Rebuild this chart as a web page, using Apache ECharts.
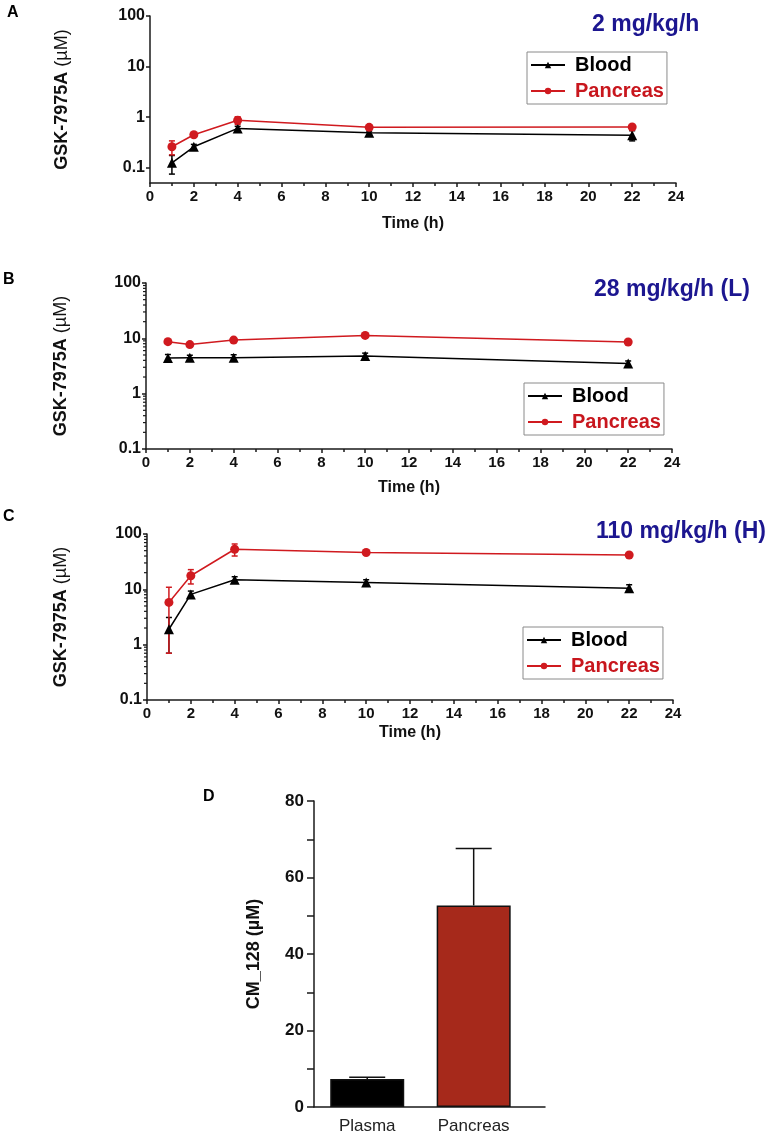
<!DOCTYPE html>
<html>
<head>
<meta charset="utf-8">
<script src="https://cdn.jsdelivr.net/npm/echarts@6/dist/echarts.min.js"></script>
<style>html,body{margin:0;padding:0;background:#fff}#c{width:770px;height:1135px}</style>
</head>
<body>
<div id="c"></div>
<script>
// ---------- data ----------
const time = [1, 2, 4, 10, 22];
const bloodA = [0.125, 0.26, 0.6, 0.49, 0.44];
const bloodASem = [0.05, 0.03, 0.06, 0.04, 0.1];
const pancA = [0.26, 0.45, 0.87, 0.63, 0.64];
const pancASem = [0.08, 0.04, 0.15, 0.04, 0.04];
const bloodB = [4.4, 4.45, 4.45, 4.8, 3.5];
const bloodBSem = [0.7, 0.5, 0.6, 0.6, 0.4];
const pancB = [8.7, 7.7, 9.3, 11.3, 8.6];
const pancBSem = [0.6, 0.5, 0.8, 0.8, 0.5];
const bloodC = [1.9, 8.1, 14.9, 13.3, 10.5];
const bloodCSem = [1.2, 1.2, 2.0, 1.6, 1.6];
const pancC = [5.8, 17.6, 53, 46.4, 41.7];
const pancCSem = [5.1, 5.1, 13, 3, 2.5];
const logMinorTicks = [0.2,0.3,0.4,0.5,0.6,0.7,0.8,0.9,2,3,4,5,6,7,8,9,20,30,40,50,60,70,80,90];
const panelTitles = ['2 mg/kg/h', '28 mg/kg/h (L)', '110 mg/kg/h (H)'];
const dCategories = ['Plasma', 'Pancreas'];
const dValues = [7.3, 52.7];
const dSem = [0.5, 14.9];

// ---------- styles ----------
const FONT = 'Liberation Sans, Arial, sans-serif';
const RED = '#d01a1f';
const NAVY = '#1c1690';
const AX = '#1a1a1a';

const grids = [
  {left: 150, top: 16, width: 526, height: 167},
  {left: 146, top: 283, width: 526, height: 166},
  {left: 147, top: 534, width: 526, height: 166},
  {left: 314, top: 801, width: 231, height: 307}
];

function xAxisTime(gi, nameGap) {
  return {
    type: 'value', gridIndex: gi, min: 0, max: 24, interval: 2,
    name: 'Time (h)', nameLocation: 'middle', nameGap: nameGap,
    nameTextStyle: {fontFamily: FONT, fontWeight: 'bold', fontSize: 16, color: '#111'},
    axisLine: {lineStyle: {color: AX, width: 1.5}},
    axisTick: {length: 4, lineStyle: {color: AX, width: 1.5}},
    minorTick: {show: true, splitNumber: 2, length: 3, lineStyle: {color: AX, width: 1.5}},
    splitLine: {show: false},
    axisLabel: {fontFamily: FONT, fontWeight: 'bold', fontSize: 15, color: '#111', margin: 6}
  };
}
function yAxisLog(gi, min, nameGap) {
  return {
    type: 'log', logBase: 10, gridIndex: gi, min: min, max: 100,
    name: '{b|GSK-7975A} {n|(\u00b5M)}', nameLocation: 'middle', nameGap: nameGap,
    nameTextStyle: {
      fontFamily: FONT, fontSize: 18, color: '#111',
      rich: {b: {fontFamily: FONT, fontWeight: 'bold', fontSize: 18, color: '#111'},
             n: {fontFamily: FONT, fontWeight: 'normal', fontSize: 18, color: '#111'}}
    },
    axisLine: {lineStyle: {color: AX, width: 1.5}},
    axisTick: {length: 4, lineStyle: {color: AX, width: 1.5}},
    splitLine: {show: false},
    axisLabel: {fontFamily: FONT, fontWeight: 'bold', fontSize: 16, color: '#111', margin: 5,
      showMinLabel: min >= 0.1, formatter: v => String(+v.toPrecision(3))}
  };
}

function errRender(capHalf) {
  return function (params, api) {
    const x = api.value(0), lo = api.value(1), hi = api.value(2);
    const a = api.coord([x, lo]), b = api.coord([x, hi]);
    const st = {stroke: api.visual('color'), lineWidth: 1.5};
    return {type: 'group', children: [
      {type: 'line', shape: {x1: a[0], y1: a[1], x2: b[0], y2: b[1]}, style: st},
      {type: 'line', shape: {x1: a[0] - capHalf, y1: a[1], x2: a[0] + capHalf, y2: a[1]}, style: st},
      {type: 'line', shape: {x1: b[0] - capHalf, y1: b[1], x2: b[0] + capHalf, y2: b[1]}, style: st}
    ]};
  };
}
function errSeries(gi, vals, sem, color) {
  return {
    type: 'custom', xAxisIndex: gi, yAxisIndex: gi, z: 3,
    itemStyle: {color: color},
    renderItem: errRender(3),
    encode: {x: 0, y: [1, 2]},
    data: time.map((t, i) => [t, vals[i] - sem[i], vals[i] + sem[i]]),
    silent: true
  };
}
function lineSeries(gi, name, vals, color, symbol) {
  return {
    type: 'line', name: name, xAxisIndex: gi, yAxisIndex: gi, z: 4,
    data: time.map((t, i) => [t, vals[i]]),
    symbol: symbol, symbolSize: symbol === 'triangle' ? 10 : 9,
    showAllSymbol: true,
    itemStyle: {color: color},
    lineStyle: {color: color, width: 1.5},
    emphasis: {disabled: true}, animation: false
  };
}
function minorTickSeries(gi) {
  return {
    type: 'custom', xAxisIndex: gi, yAxisIndex: gi, z: 5, silent: true,
    itemStyle: {color: AX},
    renderItem: function (params, api) {
      const p = api.coord([0, api.value(1)]);
      return {type: 'line', shape: {x1: p[0] - 3, y1: p[1], x2: p[0], y2: p[1]},
        style: {stroke: AX, lineWidth: 1.2}};
    },
    encode: {x: 0, y: 1},
    data: logMinorTicks.map(v => [0, v])
  };
}
function legendAt(left, top) {
  return {
    show: true, orient: 'vertical', left: left, top: top,
    borderColor: '#8a8a8a', borderWidth: 1, padding: [3, 3, 3, 3],
    itemGap: 6, itemWidth: 34, itemHeight: 8,
    selectedMode: false,
    textStyle: {fontFamily: FONT, fontWeight: 'bold', fontSize: 20, padding: [0, 0, 0, 5]},
    data: [
      {name: 'Blood', textStyle: {color: '#000'}},
      {name: 'Pancreas', textStyle: {color: '#c8161d'}}
    ]
  };
}
function gtext(text, x, y, size, color, align) {
  return {type: 'text', x: x, y: y, style: {text: text, fill: color, fontFamily: FONT,
    fontWeight: 'bold', fontSize: size, textAlign: align || 'left', textVerticalAlign: 'middle'}};
}

const barPos = dCategories.map((c, i) => i + 0.5);

const option = {
  animation: false,
  backgroundColor: '#fff',
  grid: grids,
  legend: [legendAt(527, 52), legendAt(524, 383), legendAt(523, 627)],
  xAxis: [
    xAxisTime(0, 33), xAxisTime(1, 31), xAxisTime(2, 25),
    {
      type: 'value', gridIndex: 3, min: 0, max: 2.17, interval: 0.5,
      axisLine: {lineStyle: {color: AX, width: 1.5}},
      axisTick: {show: false}, splitLine: {show: false},
      axisLabel: {fontFamily: FONT, fontSize: 17, color: '#222', margin: 11,
        showMaxLabel: false,
        formatter: function (v) {
          const i = Math.round(v - 0.5);
          return Math.abs(v - 0.5 - i) < 1e-6 && dCategories[i] ? dCategories[i] : '';
        }}
    }
  ],
  yAxis: [
    yAxisLog(0, 0.05, 79), yAxisLog(1, 0.1, 76), yAxisLog(2, 0.1, 77),
    {
      type: 'value', gridIndex: 3, min: 0, max: 80, interval: 20,
      name: 'CM_128 (\u00b5M)', nameLocation: 'middle', nameGap: 51,
      nameTextStyle: {fontFamily: FONT, fontWeight: 'bold', fontSize: 18, color: '#111'},
      axisLine: {lineStyle: {color: AX, width: 1.5}},
      axisTick: {length: 7, lineStyle: {color: AX, width: 1.5}},
      minorTick: {show: true, splitNumber: 2, length: 7, lineStyle: {color: AX, width: 1.5}},
      splitLine: {show: false},
      axisLabel: {fontFamily: FONT, fontWeight: 'bold', fontSize: 17, color: '#111', margin: 10}
    }
  ],
  series: [
    errSeries(0, bloodA, bloodASem, '#000'), errSeries(0, pancA, pancASem, RED),
    lineSeries(0, 'Blood', bloodA, '#000', 'triangle'), lineSeries(0, 'Pancreas', pancA, RED, 'circle'),
    errSeries(1, bloodB, bloodBSem, '#000'), errSeries(1, pancB, pancBSem, RED),
    lineSeries(1, 'Blood', bloodB, '#000', 'triangle'), lineSeries(1, 'Pancreas', pancB, RED, 'circle'),
    errSeries(2, bloodC, bloodCSem, '#000'), errSeries(2, pancC, pancCSem, RED),
    lineSeries(2, 'Blood', bloodC, '#000', 'triangle'), lineSeries(2, 'Pancreas', pancC, RED, 'circle'),
    minorTickSeries(1), minorTickSeries(2),
    {
      type: 'custom', xAxisIndex: 3, yAxisIndex: 3, z: 1, silent: true,
      itemStyle: {color: '#000'},
      renderItem: function (params, api) {
        const x = api.value(0), top = api.value(1), hi = api.value(2);
        const a = api.coord([x, top]), b = api.coord([x, hi]);
        const st = {stroke: '#111', lineWidth: 1.5};
        return {type: 'group', children: [
          {type: 'line', shape: {x1: a[0], y1: a[1], x2: b[0], y2: b[1]}, style: st},
          {type: 'line', shape: {x1: b[0] - 18, y1: b[1], x2: b[0] + 18, y2: b[1]}, style: st}
        ]};
      },
      encode: {x: 0, y: [1, 2]},
      data: barPos.map((p, i) => [p, dValues[i], dValues[i] + dSem[i]])
    },
    {
      type: 'bar', xAxisIndex: 3, yAxisIndex: 3, z: 2, barWidth: 74,
      data: barPos.map((p, i) => ({value: [p, dValues[i]],
        itemStyle: {color: i === 0 ? '#000' : '#a6291b'}})),
      itemStyle: {borderColor: '#111', borderWidth: 1.5},
      emphasis: {disabled: true}
    }
  ],
  graphic: [
    gtext('A', 7, 13, 16, '#000'),
    gtext('B', 3, 280, 16, '#000'),
    gtext('C', 3, 517, 16, '#000'),
    gtext('D', 203, 797, 16, '#000'),
    gtext(panelTitles[0], 592, 25, 23, NAVY),
    gtext(panelTitles[1], 594, 290, 23, NAVY),
    gtext(panelTitles[2], 596, 532, 23, NAVY)
  ]
};

const chart = echarts.init(document.getElementById('c'), null, {renderer: 'canvas'});
chart.setOption(option);
</script>
</body>
</html>
